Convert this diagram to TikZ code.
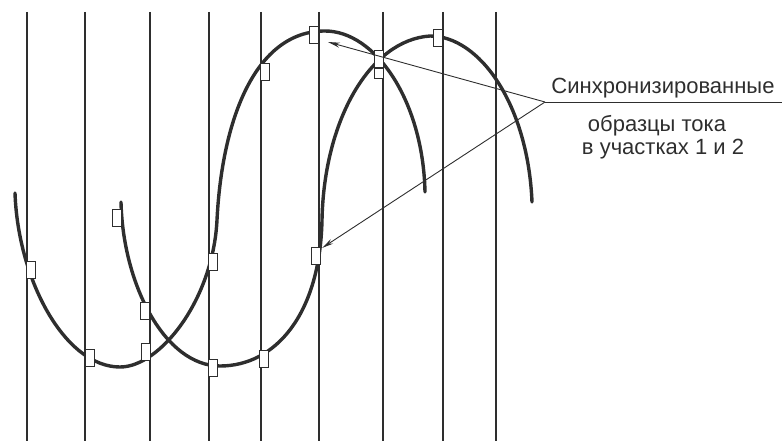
\documentclass[tikz,border=0pt]{standalone}
\usepackage{fontspec}
\setmainfont{Liberation Sans}
\usetikzlibrary{arrows.meta}
\definecolor{ink}{gray}{0.18}
\tikzset{
  grid line/.style={draw=ink, line width=1.8pt},
  wave/.style={draw=ink, line width=3.4pt, line cap=round},
  sample/.style={draw=ink, fill=white, line width=0.9pt, minimum width=9pt, minimum height=17pt, inner sep=0pt},
  short sample/.style={sample, minimum height=10pt},
  pointer/.style={draw=ink, line width=0.9pt, -{Stealth[length=12pt,width=5pt]}},
  label text/.style={font=\fontsize{22}{25}\selectfont, text=ink, anchor=base, inner sep=0pt}
}
\begin{document}
\begin{tikzpicture}[x=1pt,y=-1pt]
\useasboundingbox (0,0) rectangle (782,441);
% vertical lines
\foreach \xx/\nn in {27/1,85/2,150/3,209/4,261/5,319/6,383/7,443/8,496/9}{
  \coordinate (t\nn) at (\xx,12);
  \coordinate (b\nn) at (\xx,441);
  \draw[grid line] (t\nn) -- (b\nn);
}
% curve 1
\draw[wave] (15,193) .. controls (18,280) and (65,367) .. (120,367)
  .. controls (160,367) and (213,300) .. (217,220)
  .. controls (222,120) and (255,31) .. (325,31)
  .. controls (375,31) and (423,100) .. (425,192);
% curve 2
\draw[wave] (121,202) .. controls (123,285) and (165,366) .. (220,366)
  .. controls (275,366) and (320,315) .. (322,220)
  .. controls (324,120) and (370,40) .. (430,36)
  .. controls (480,36) and (528,105) .. (532,202);
% samples on curve 1
\node[sample] (a1) at (30.5,270) {};
\node[sample] (a2) at (89.5,358) {};
\node[sample] (a3) at (146,351.5) {};
\node[sample] (a4) at (212.5,261.5) {};
\node[sample] (a5) at (265,72) {};
\node[sample] (a6) at (314,34.5) {};
\node[sample] (a7) at (379,59) {};
% samples on curve 2
\node[sample] (c1) at (116.5,218) {};
\node[sample] (c2) at (145,310.5) {};
\node[sample] (c3) at (212.5,368) {};
\node[sample] (c4) at (263.5,358.5) {};
\node[sample] (c5) at (316,256) {};
\node[short sample] (c6) at (379,73) {};
\node[sample] (c7) at (438,37.5) {};
% annotation
\coordinate (apex) at (545,102);
\coordinate (lineend) at (782,102);
\coordinate (tipA) at (328,42);
\coordinate (tipB) at (322,248);
\draw[draw=ink, line width=0.9pt] (apex) -- (lineend);
\draw[pointer] (apex) -- (tipA);
\draw[pointer] (apex) -- (tipB);
\node[label text] (l1) at (663,94) {Синхронизированные};
\node[label text] (l2) at (657,132) {образцы тока};
\node[label text] (l3) at (663,155) {в участках 1 и 2};
\end{tikzpicture}
\end{document}
